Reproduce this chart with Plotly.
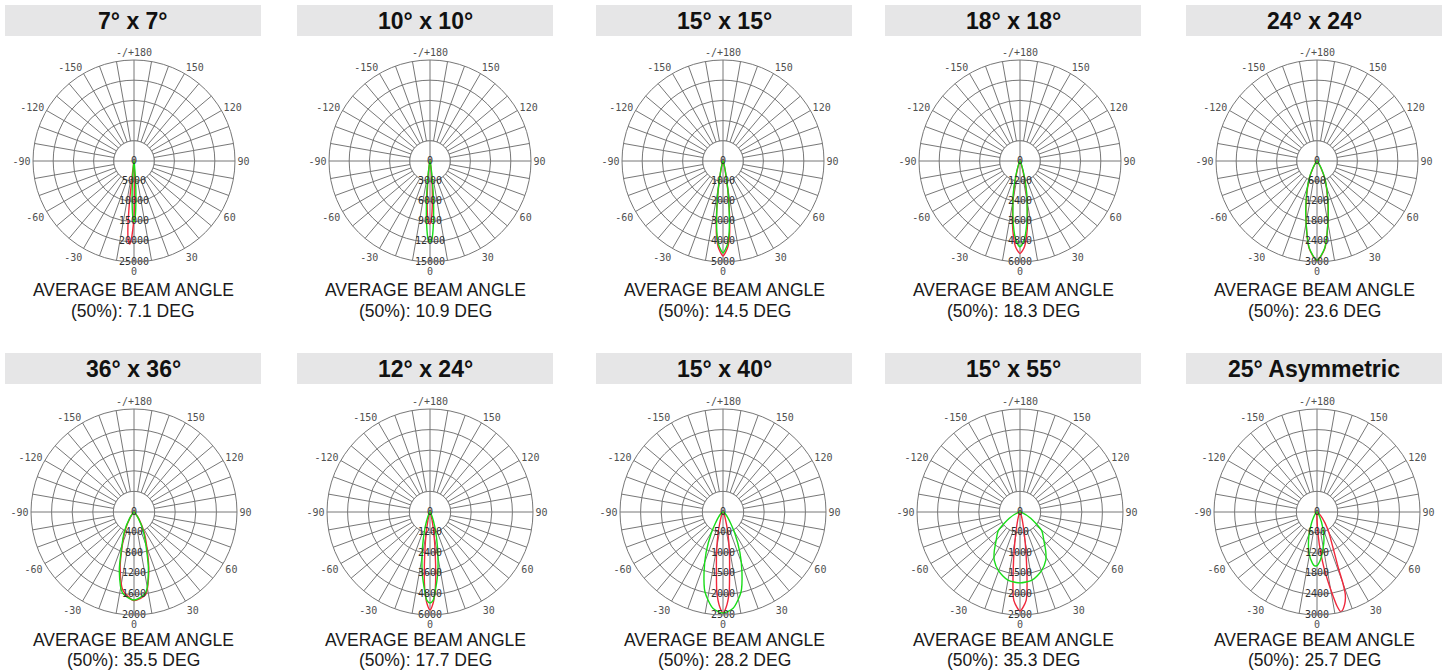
import numpy as np
import plotly.graph_objects as go

W, H = 1447, 670

TITLES = ["7° x 7°", "10° x 10°", "15° x 15°", "18° x 18°", "24° x 24°",
          "36° x 36°", "12° x 24°", "15° x 40°", "15° x 55°", "25° Asymmetric"]
BEAM_ANGLES = ["7.1", "10.9", "14.5", "18.3", "23.6",
               "35.5", "17.7", "28.2", "35.3", "25.7"]

RTICKS = [
    [0, 5000, 10000, 15000, 20000, 25000],
    [0, 3000, 6000, 9000, 12000, 15000],
    [0, 1000, 2000, 3000, 4000, 5000],
    [0, 1200, 2400, 3600, 4800, 6000],
    [0, 600, 1200, 1800, 2400, 3000],
    [0, 400, 800, 1200, 1600, 2000],
    [0, 1200, 2400, 3600, 4800, 6000],
    [0, 500, 1000, 1500, 2000, 2500],
    [0, 500, 1000, 1500, 2000, 2500],
    [0, 600, 1200, 1800, 2400, 3000],
]

ANG_VALS = [0, 30, 60, 90, 120, 150, 180, 210, 240, 270, 300, 330]
ANG_TEXT = ["0", "30", "60", "90", "120", "150", "-/+180",
            "-150", "-120", "-90", "-60", "-30"]

# ---- luminous intensity curves (gamma angle in deg, intensity in cd) ----
# 7 x 7
RED_T1 = [-20, -10, -8, -7, -6, -5, -4, -3, -2, -1, 0, 1, 2, 3, 4, 5, 6, 8, 10, 20]
RED_R1 = [0, 100, 800, 4000, 12000, 17500, 20000, 20600, 19500, 17000, 14000, 9000, 3500, 1000, 300, 100, 50, 0, 0, 0]
GRN_T1 = [-20, -10, -8, -7, -6, -5, -4, -3, -2, -1, 0, 1, 2, 3, 4, 5, 6, 7, 8, 10, 20]
GRN_R1 = [0, 50, 200, 600, 1500, 3500, 6000, 9000, 12000, 14300, 15000, 14300, 12000, 9000, 6000, 3500, 1500, 600, 200, 50, 0]
# 10 x 10
RED_T2 = [-20, -12, -9, -7, -5, -3, -1.5, 0, 1.5, 3, 5, 7, 9, 12, 20]
RED_R2 = [0, 150, 900, 2200, 4600, 7600, 9200, 9300, 8500, 6500, 3800, 1600, 600, 100, 0]
GRN_T2 = [-20, -12, -9, -7, -5, -3, -1.5, 0, 1.5, 3, 5, 7, 9, 12, 20]
GRN_R2 = [0, 300, 1200, 3000, 6000, 9500, 11500, 12000, 11500, 9500, 6000, 3000, 1200, 300, 0]
# 15 x 15
RED_T3 = [-40, -25, -18, -13, -10, -7.5, -5, -3, 0, 3, 5, 7.5, 10, 13, 18, 25, 40]
RED_R3 = [0, 30, 100, 450, 1200, 2350, 3700, 4300, 4700, 4300, 3700, 2350, 1200, 450, 100, 30, 0]
GRN_T3 = [-40, -25, -18, -13, -10, -7.5, -5, -3, 0, 3, 5, 7.5, 10, 13, 18, 25, 40]
GRN_R3 = [0, 40, 150, 550, 1300, 2300, 3500, 4150, 4550, 4150, 3500, 2300, 1300, 550, 150, 40, 0]
# 18 x 18
RED_T4 = [-45, -30, -22, -16, -12, -9, -6, -3, 0, 3, 6, 9, 12, 16, 22, 30, 45]
RED_R4 = [0, 40, 150, 700, 1700, 2800, 4100, 5100, 5500, 5100, 4100, 2800, 1700, 700, 150, 40, 0]
GRN_T4 = [-45, -30, -22, -16, -12, -9, -6, -3, 0, 3, 6, 9, 12, 16, 22, 30, 45]
GRN_R4 = [0, 60, 250, 900, 1900, 2700, 3800, 4700, 5100, 4700, 3800, 2700, 1900, 900, 250, 60, 0]
# 24 x 24
RED_T5 = [-60, -40, -30, -23.6, -15.5, -10.4, -5, 0, 5, 10.4, 15.5, 23.6, 30, 40, 60]
RED_R5 = [0, 40, 230, 580, 1180, 1800, 2620, 2960, 2620, 1800, 1180, 580, 230, 40, 0]
GRN_T5 = [-60, -40, -30, -23.6, -15.5, -10.4, -5, 0, 5, 10.4, 15.5, 23.6, 30, 40, 60]
GRN_R5 = [0, 50, 250, 610, 1210, 1810, 2600, 2950, 2600, 1810, 1210, 610, 250, 50, 0]
# 36 x 36
RED_T6 = [-70, -55, -45, -35, -26, -18, -14, -8, 0, 8, 14, 18, 26, 35, 45, 55, 70]
RED_R6 = [0, 10, 25, 120, 390, 770, 1110, 1540, 1720, 1620, 1190, 860, 460, 170, 40, 10, 0]
GRN_T6 = [-70, -55, -45, -35, -26, -18, -14, -8, 0, 8, 14, 18, 26, 35, 45, 55, 70]
GRN_R6 = [0, 10, 30, 150, 430, 810, 1180, 1590, 1710, 1590, 1160, 800, 410, 140, 30, 10, 0]
# 12 x 24
RED_T7 = [-50, -35, -25, -18, -14, -10.9, -7.2, -4, -2, 0, 2, 4, 7.2, 10.9, 14, 18, 25, 35, 50]
RED_R7 = [0, 10, 50, 200, 500, 1100, 2450, 4450, 5300, 5700, 5300, 4450, 2450, 1100, 500, 200, 50, 10, 0]
GRN_T7 = [-50, -35, -25, -18, -14, -10.9, -7.2, -4, -2, 0, 2, 4, 7.2, 10.9, 14, 18, 25, 35, 50]
GRN_R7 = [0, 60, 300, 900, 1600, 2400, 3600, 4550, 5150, 5300, 5150, 4550, 3600, 2400, 1600, 900, 300, 60, 0]
# 15 x 40
RED_T8 = [-60, -40, -25, -16, -13, -9, -6.2, -4.4, -2, 0, 2, 4.4, 6.2, 9, 13, 16, 25, 40, 60]
RED_R8 = [0, 10, 80, 290, 530, 1000, 1475, 1950, 2300, 2450, 2300, 1950, 1475, 1000, 530, 290, 80, 10, 0]
GRN_T8 = [-75, -60, -45, -34, -29, -22.6, -17.4, -12.7, -6, 0, 6, 12.7, 17.4, 22.6, 29, 34, 45, 60, 75]
GRN_R8 = [0, 30, 120, 335, 590, 1070, 1540, 1990, 2350, 2450, 2350, 1990, 1540, 1070, 590, 335, 120, 30, 0]
# 15 x 55
RED_T9 = [-40, -25, -16, -11, -7.5, -4, 0, 4, 7.5, 11, 16, 25, 40]
RED_R9 = [0, 50, 200, 550, 1200, 2150, 2400, 2150, 1200, 550, 200, 50, 0]
GRN_T9 = [-90, -75, -60, -49, -40, -33, -28, -20, -10, 0, 10, 20, 28, 33, 40, 49, 60, 75, 90]
GRN_R9 = [0, 50, 300, 700, 900, 1150, 1330, 1520, 1680, 1720, 1680, 1520, 1330, 1150, 900, 700, 300, 50, 0]
# 25 asymmetric
RED_T10 = [-10, -3, 0, 3, 5, 7, 9, 10.6, 12, 13.3, 14.5, 16, 17.5, 19, 20, 21, 23, 26, 30, 36, 45, 60]
RED_R10 = [0, 80, 250, 700, 1150, 1610, 2050, 2440, 2800, 2980, 2960, 2860, 2730, 2530, 2200, 1700, 1300, 950, 690, 400, 150, 0]
GRN_T10 = [-45, -30, -20, -17, -11, -5, -2.5, 0, 4, 7, 14, 20, 30, 45]
GRN_R10 = [0, 250, 650, 840, 1220, 1500, 1570, 1560, 1400, 1220, 840, 500, 150, 0]

RED_T = [RED_T1, RED_T2, RED_T3, RED_T4, RED_T5, RED_T6, RED_T7, RED_T8, RED_T9, RED_T10]
RED_R = [RED_R1, RED_R2, RED_R3, RED_R4, RED_R5, RED_R6, RED_R7, RED_R8, RED_R9, RED_R10]
GRN_T = [GRN_T1, GRN_T2, GRN_T3, GRN_T4, GRN_T5, GRN_T6, GRN_T7, GRN_T8, GRN_T9, GRN_T10]
GRN_R = [GRN_R1, GRN_R2, GRN_R3, GRN_R4, GRN_R5, GRN_R6, GRN_R7, GRN_R8, GRN_R9, GRN_R10]

# ---- layout (pixels in the page) ----
POLAR_CX = [134, 430, 723, 1020, 1317]
POLAR_CY = [161, 512]
POLAR_RAD = [101, 103]
BOX_X = [(5, 261), (297, 553), (596, 852), (885, 1141), (1186, 1442)]
BOX_Y = [(5, 36), (353, 384)]
CAP1_Y = [290, 640]
CAP2_Y = [311, 660]

GRID = "#777777"
RED = "#f0283c"
GREEN = "#18dc18"


def px(x):
    return x / W


def py(y):
    return 1 - y / H


fig = go.Figure()
layout = {}
shapes = []
annotations = []

circ_theta = np.linspace(0, 360, 121)

for i in range(10):
    row, col = divmod(i, 5)
    sub = "polar" if i == 0 else f"polar{i + 1}"
    ticks = RTICKS[i]
    rmax = ticks[-1]
    r1 = ticks[1]
    cx, cy, rad = POLAR_CX[col], POLAR_CY[row], POLAR_RAD[row]

    # inner white disk (first ring) and centre cross
    fig.add_trace(go.Scatterpolar(r=[r1] * len(circ_theta), theta=circ_theta, mode="lines",
                                  fill="toself", fillcolor="white",
                                  line=dict(color=GRID, width=1), subplot=sub,
                                  hoverinfo="skip", showlegend=False))
    fig.add_trace(go.Scatterpolar(r=[r1, 0, r1, None, r1, 0, r1],
                                  theta=[0, 0, 180, None, 90, 90, 270], mode="lines",
                                  line=dict(color=GRID, width=1), subplot=sub,
                                  hoverinfo="skip", showlegend=False))
    fig.add_trace(go.Scatterpolar(r=RED_R[i], theta=RED_T[i], mode="lines",
                                  line=dict(color=RED, width=1.4, shape="spline", smoothing=0.7),
                                  subplot=sub, showlegend=False))
    fig.add_trace(go.Scatterpolar(r=GRN_R[i], theta=GRN_T[i], mode="lines",
                                  line=dict(color=GREEN, width=1.4, shape="spline", smoothing=0.7),
                                  subplot=sub, showlegend=False))
    fig.add_trace(go.Scatterpolar(r=ticks, theta=[0] * len(ticks), mode="text",
                                  text=[str(t) for t in ticks], textposition="middle center",
                                  textfont=dict(family="DejaVu Sans Mono", size=10, color="#2e2e2e"),
                                  subplot=sub, hoverinfo="skip", showlegend=False))

    layout[sub] = dict(
        domain=dict(x=[px(cx - rad), px(cx + rad)],
                    y=[py(cy + rad), py(cy - rad)]),
        bgcolor="white",
        angularaxis=dict(rotation=-90, direction="counterclockwise",
                         tickmode="array", tickvals=list(range(0, 360, 10)),
                         ticktext=[ANG_TEXT[ANG_VALS.index(v)] if v in ANG_VALS else ""
                                   for v in range(0, 360, 10)],
                         showgrid=True, gridcolor=GRID, gridwidth=1,
                         showline=True, linecolor=GRID, linewidth=1, ticks="",
                         tickfont=dict(family="DejaVu Sans Mono", size=10, color="#505050")),
        radialaxis=dict(range=[0, rmax], tickmode="array", tickvals=ticks[1:],
                        showticklabels=False, ticks="", showline=False,
                        gridcolor=GRID, gridwidth=1),
    )

    x0, x1 = BOX_X[col]
    y0, y1 = BOX_Y[row]
    xc = px((x0 + x1) / 2)
    shapes.append(dict(type="rect", xref="paper", yref="paper",
                       x0=px(x0), x1=px(x1), y0=py(y1), y1=py(y0),
                       fillcolor="#e6e6e7", line=dict(width=0), layer="below"))
    annotations.append(dict(text=TITLES[i], xref="paper", yref="paper",
                            x=xc, y=py((y0 + y1) / 2),
                            xanchor="center", yanchor="middle", showarrow=False,
                            font=dict(family="Liberation Sans", size=23, color="#111111",
                                      weight="bold")))
    annotations.append(dict(text="AVERAGE BEAM ANGLE", xref="paper", yref="paper",
                            x=xc, y=py(CAP1_Y[row]), xanchor="center", yanchor="middle",
                            showarrow=False,
                            font=dict(family="Liberation Sans", size=17.5, color="#1a1a1a")))
    annotations.append(dict(text=f"(50%): {BEAM_ANGLES[i]} DEG", xref="paper", yref="paper",
                            x=xc, y=py(CAP2_Y[row]), xanchor="center", yanchor="middle",
                            showarrow=False,
                            font=dict(family="Liberation Sans", size=17.5, color="#1a1a1a")))

fig.update_layout(width=W, height=H, margin=dict(l=0, r=0, t=0, b=0),
                  paper_bgcolor="white", plot_bgcolor="white",
                  shapes=shapes, annotations=annotations, showlegend=False, **layout)

fig.write_html("out.html",
               config={"displayModeBar": False},
               post_script="document.documentElement.style.margin='0';"
                           "document.body.style.margin='0';"
                           "document.body.style.overflow='hidden';")
